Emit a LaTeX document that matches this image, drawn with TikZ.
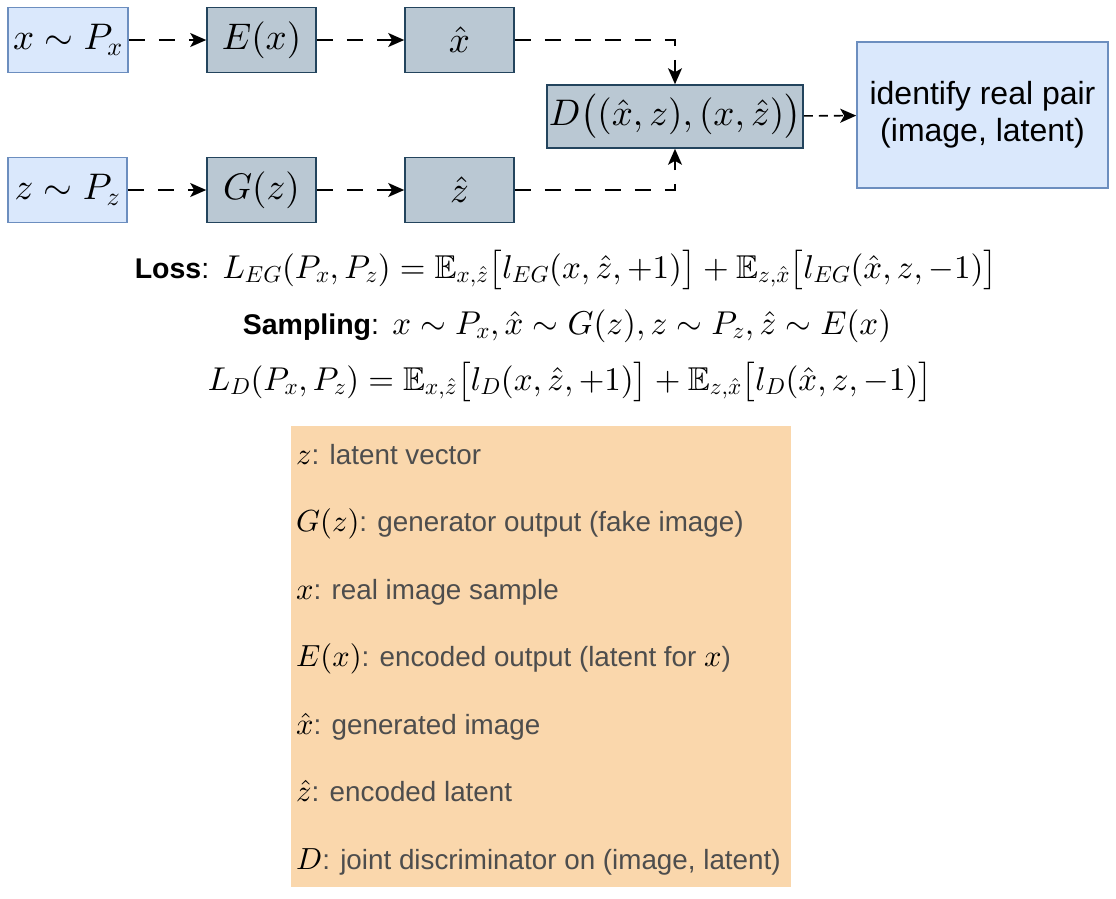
\documentclass[tikz,border=0pt]{standalone}
\usepackage{amsmath,amssymb}
\usepackage{fontspec}
\setsansfont{Liberation Sans}
\usepackage{xcolor}
\usetikzlibrary{arrows.meta}

% scalable math fonts
\DeclareFontShape{OML}{cmm}{m}{it}{<-> cmmi10}{}
\DeclareFontShape{OMS}{cmsy}{m}{n}{<-> cmsy10}{}
\DeclareFontShape{OMX}{cmex}{m}{n}{<-> cmex10}{}
\DeclareFontShape{OT1}{cmr}{m}{n}{<-> cmr10}{}
\DeclareFontFamily{U}{msb}{}
\DeclareFontShape{U}{msb}{m}{n}{<-> msbm10}{}

\definecolor{infill}{HTML}{DAE8FC}
\definecolor{inborder}{HTML}{6C8EBF}
\definecolor{netfill}{HTML}{BAC8D3}
\definecolor{netborder}{HTML}{23445D}
\definecolor{notefill}{HTML}{FAD7AC}
\definecolor{notetext}{HTML}{4D4D4D}
\newcommand{\mathblack}[1]{\textcolor{black}{\fontsize{30.5}{36}\selectfont$#1$}}
\newcommand{\eqhead}[1]{{\sffamily\fontsize{28.5}{34}\selectfont\textbf{#1}:}}

\begin{document}
\begin{tikzpicture}[x=1pt, y=-1pt,
    inbox/.style={draw=inborder, fill=infill, line width=1.6pt, inner sep=0pt,
        minimum height=65pt, font=\fontsize{37}{44}\selectfont},
    netbox/.style={draw=netborder, fill=netfill, line width=1.6pt, inner sep=0pt,
        minimum width=109pt, minimum height=65pt, font=\fontsize{37}{44}\selectfont},
    flow/.style={line width=1.6pt, dash pattern={on 16pt off 14pt},
        -{Stealth[length=16pt, width=14pt, inset=4pt]}},
    eqn/.style={anchor=base, inner sep=0pt, font=\fontsize{33}{39}\selectfont},
    note/.style={anchor=base west, inner sep=0pt, text=notetext,
        font=\sffamily\fontsize{27.8}{33}\selectfont}]
\useasboundingbox (0,0) rectangle (1116,898);

% Top row: encoder path
\node[inbox, minimum width=120pt] (xPx) at (68,40) {$x \sim P_x$};
\node[netbox] (Ex) at (261.5,40) {$E(x)$};
\node[netbox] (xhat) at (459.5,40) {$\hat{x}$};

% Bottom row: generator path
\node[inbox, minimum width=119pt] (zPz) at (67.5,190) {$z \sim P_z$};
\node[netbox] (Gz) at (261.5,190) {$G(z)$};
\node[netbox] (zhat) at (459.5,190) {$\hat{z}$};

% Joint discriminator and its output
\node[netbox, minimum width=256pt, minimum height=63pt] (D) at (675,116.5)
    {$D\bigl((\hat{x},z),(x,\hat{z})\bigr)$};
\node[inbox, minimum width=251pt, minimum height=146pt, align=center,
    font=\sffamily\fontsize{32}{37}\selectfont] (pair) at (982.5,115)
    {identify real pair\\(image, latent)};

\draw[flow] (xPx) -- (Ex);
\draw[flow] (Ex) -- (xhat);
\draw[flow] (zPz) -- (Gz);
\draw[flow] (Gz) -- (zhat);
\draw[flow] (xhat) -| (D);
\draw[flow] (zhat) -| (D);
\draw[flow, dash pattern={on 9pt off 6pt}] (D) -- (pair);

% Objectives
\node[eqn] (lossEG) at (566,278) {\eqhead{Loss} $L_{EG}(P_x,P_z)=\mathbb{E}_{x,\hat{z}}\big[l_{EG}(x,\hat{z},+1)\big]+\mathbb{E}_{z,\hat{x}}\big[l_{EG}(\hat{x},z,-1)\big]$};
\node[eqn] (sampling) at (567,334) {\eqhead{Sampling} $x\sim P_x,\hat{x}\sim G(z),z\sim P_z,\hat{z}\sim E(x)$};
\node[eqn] (lossD) at (570,390) {$L_D(P_x,P_z)=\mathbb{E}_{x,\hat{z}}\big[l_D(x,\hat{z},+1)\big]+\mathbb{E}_{z,\hat{x}}\big[l_D(\hat{x},z,-1)\big]$};

% Legend
\fill[notefill] (291,426) rectangle (791,887);
\node[note] (legz) at (296,464) {\mathblack{z}: latent vector};
\node[note] (legG) at (296,531.5) {\mathblack{G(z)}: generator output (fake image)};
\node[note] (legx) at (296,599) {\mathblack{x}: real image sample};
\node[note] (legE) at (296,666.5) {\mathblack{E(x)}: encoded output (latent for \mathblack{x})};
\node[note] (legxh) at (296,734) {\mathblack{\hat{x}}: generated image};
\node[note] (legzh) at (296,801.5) {\mathblack{\hat{z}}: encoded latent};
\node[note] (legD) at (296,869) {\mathblack{D}: joint discriminator on (image, latent)};
\end{tikzpicture}
\end{document}
